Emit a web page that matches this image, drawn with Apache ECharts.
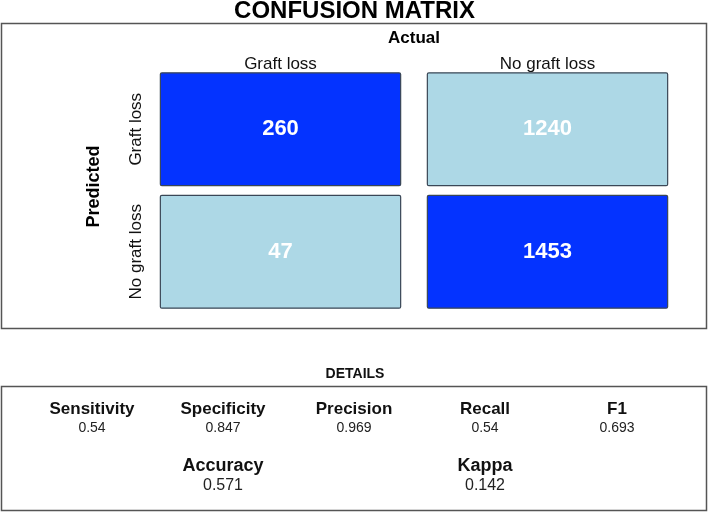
<!DOCTYPE html>
<html>
<head>
<meta charset="utf-8">
<script src="https://cdn.jsdelivr.net/npm/echarts@6/dist/echarts.min.js"></script>
<style>html,body{margin:0;padding:0;background:#fff}#c{width:709px;height:513px}</style>
</head>
<body>
<div id="c"></div>
<script>
// ---- data ----
const actualCats = ['Graft loss', 'No graft loss'];
const predictedCats = ['Graft loss', 'No graft loss'];
// rows = predicted, cols = actual
const counts = [[260, 1240], [47, 1453]];
const metricsRow1Names = ['Sensitivity', 'Specificity', 'Precision', 'Recall', 'F1'];
const metricsRow1Values = ['0.54', '0.847', '0.969', '0.54', '0.693'];
const metricsRow2Names = ['Accuracy', 'Kappa'];
const metricsRow2Values = ['0.571', '0.142'];

// ---- layout ----
const FONT = 'Liberation Sans, Arial, sans-serif';
const row1X = [92, 223, 354, 485, 617];
const row2X = [223, 485];

const cellData = [];
counts.forEach((row, pi) => row.forEach((v, ai) => cellData.push([ai, pi, v])));

const graphics = [
  { type: 'rect', shape: { x: 1.5, y: 23.5, width: 705, height: 305 }, style: { fill: 'none', stroke: '#555', lineWidth: 1.5 }, z: -1 },
  { type: 'rect', shape: { x: 1.5, y: 386.5, width: 705, height: 124 }, style: { fill: 'none', stroke: '#555', lineWidth: 1.5 }, z: -1 },
  { type: 'text', x: 355, y: 374, style: { text: 'DETAILS', font: 'bold 14px ' + FONT, fill: '#111', align: 'center', verticalAlign: 'middle' } }
];
metricsRow1Names.forEach((n, i) => {
  graphics.push({ type: 'text', x: row1X[i], y: 409, style: { text: n, font: 'bold 17px ' + FONT, fill: '#111', align: 'center', verticalAlign: 'middle' } });
  graphics.push({ type: 'text', x: row1X[i], y: 428, style: { text: metricsRow1Values[i], font: '14px ' + FONT, fill: '#222', align: 'center', verticalAlign: 'middle' } });
});
metricsRow2Names.forEach((n, i) => {
  graphics.push({ type: 'text', x: row2X[i], y: 466, style: { text: n, font: 'bold 18px ' + FONT, fill: '#111', align: 'center', verticalAlign: 'middle' } });
  graphics.push({ type: 'text', x: row2X[i], y: 486, style: { text: metricsRow2Values[i], font: '16px ' + FONT, fill: '#222', align: 'center', verticalAlign: 'middle' } });
});

const chart = echarts.init(document.getElementById('c'), null, { renderer: 'canvas' });
chart.setOption({
  animation: false,
  backgroundColor: '#fff',
  title: {
    text: 'CONFUSION MATRIX', left: 'center', top: -1, padding: 0,
    textStyle: { fontFamily: FONT, fontWeight: 'bold', fontSize: 24, color: '#000' }
  },
  grid: { left: 147, right: 28, top: 68, bottom: 200 },
  xAxis: {
    type: 'category', data: actualCats, position: 'top',
    name: 'Actual', nameLocation: 'middle', nameGap: 21,
    nameTextStyle: { fontFamily: FONT, fontWeight: 'bold', fontSize: 17, color: '#000' },
    axisLine: { show: false }, axisTick: { show: false }, splitLine: { show: false },
    axisLabel: { fontFamily: FONT, fontSize: 17, color: '#111', margin: -5, interval: 0 }
  },
  yAxis: {
    type: 'category', data: predictedCats, inverse: true,
    name: 'Predicted', nameLocation: 'middle', nameGap: 44, nameRotate: 90,
    nameTextStyle: { fontFamily: FONT, fontWeight: 'bold', fontSize: 18, color: '#000', padding: [0, 0, 0, 8] },
    axisLine: { show: false }, axisTick: { show: false }, splitLine: { show: false },
    axisLabel: { fontFamily: FONT, fontSize: 17, color: '#111', rotate: 90, margin: 2, interval: 0, hideOverlap: false }
  },
  graphic: graphics,
  series: [{
    type: 'custom',
    data: cellData,
    renderItem: function (params, api) {
      const xi = api.value(0), yi = api.value(1);
      const c = api.coord([xi, yi]);
      const s = api.size([1, 1]);
      const w = s[0] * 0.9, h = s[1] * 0.922;
      return {
        type: 'group',
        children: [
          { type: 'rect', shape: { x: c[0] - w / 2, y: c[1] - h / 2, width: w, height: h, r: 1.5 },
            style: { fill: xi === yi ? '#0433FF' : '#ADD8E6', stroke: '#3a4756', lineWidth: 1.2 } },
          { type: 'text', style: { text: String(api.value(2)), x: c[0], y: c[1], align: 'center', verticalAlign: 'middle',
            fill: '#fff', font: 'bold 22px ' + FONT } }
        ]
      };
    }
  }]
});
</script>
</body>
</html>
